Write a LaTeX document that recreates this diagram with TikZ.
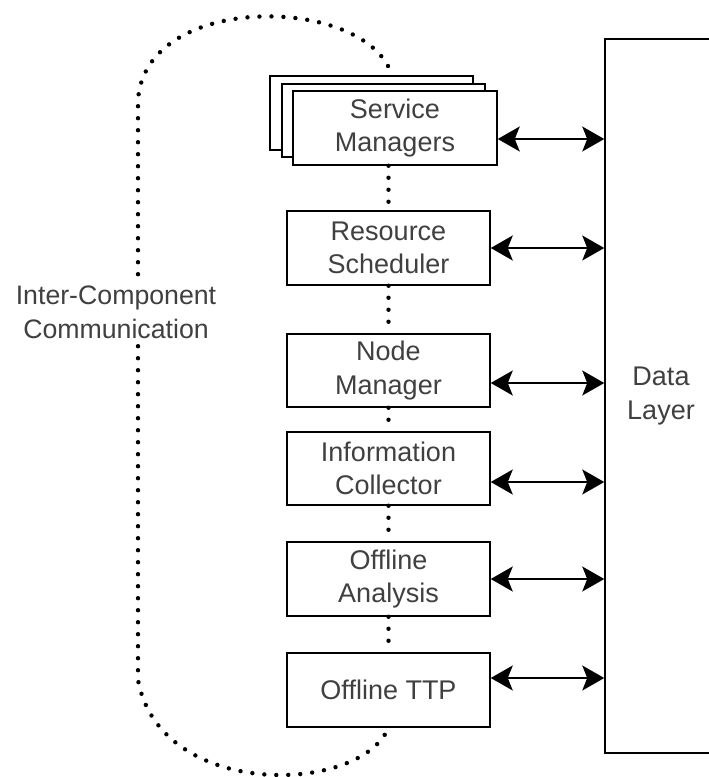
\documentclass[tikz,border=0pt]{standalone}
\usepackage{fontspec}
\setmainfont{Liberation Sans}
\usetikzlibrary{arrows.meta,calc}
\begin{document}
\begin{tikzpicture}[x=1pt,y=-1pt,
  box/.style={draw=black,line width=1.5pt,fill=white,minimum width=203pt,minimum height=74pt,inner sep=0pt,
    align=center,text=black!75,font=\fontsize{27}{33.5}\selectfont},
  dots/.style={line width=4.4pt,dash pattern=on 0pt off 12pt,line cap=round},
  arr/.style={line width=1.6pt,{Stealth[length=22pt,width=25pt,inset=5pt]}-{Stealth[length=22pt,width=25pt,inset=5pt]}},
  lbl/.style={align=center,fill=white,inner sep=4pt,text=black!75,font=\fontsize{26.7}{34}\selectfont}]
\useasboundingbox (0,0) rectangle (709,777);
\begin{scope}
\clip (0,0) rectangle (709,777);
% Data layer
\node[box,minimum width=112pt,minimum height=714pt] (dl) at (661,396) {Data\\Layer};
\end{scope}
% stacked service managers
\node[box,minimum width=203pt,minimum height=74pt] (sm2) at (371.5,113) {};
\node[box,minimum width=203pt,minimum height=73pt] (sm1) at (383.5,120.5) {};
\node[box,minimum width=204pt,minimum height=74pt] (sm) at (395,128) {Service\\Managers};
\node[box] (rs) at (388.5,248) {Resource\\Scheduler};
\node[box,minimum height=73pt] (nm) at (388.5,370.5) {Node\\Manager};
\node[box,minimum height=73pt] (ic) at (388.5,468.5) {Information\\Collector};
\node[box] (oa) at (388.5,579) {Offline\\Analysis};
\node[box] (ttp) at (388.5,690) {Offline TTP};
% vertical dotted links
\draw[dots] (rs.north |- sm.south) -- (rs.north);
\draw[dots] (rs.south) -- (nm.north);
\draw[dots] (nm.south) -- (ic.north);
\draw[dots] (ic.south) -- (oa.north);
\draw[dots] (oa.south) -- (ttp.north);
% big loop
\coordinate (top) at (388,66);
\draw[dots] (top) .. controls (350,-5) and (145,-5) .. (138,100) -- (138,680)
  .. controls (160,800) and (360,795) .. (ttp.south);
\node[lbl] (icc) at (116,312) {Inter-Component\\Communication};
% arrows
\draw[arr] ([yshift=-11pt]sm.east) coordinate (a1) -- (a1 -| dl.west);
\draw[arr] (rs.east) -- (rs.east -| dl.west);
\draw[arr] ([yshift=-12.5pt]nm.east) coordinate (a3) -- (a3 -| dl.west);
\draw[arr] ([yshift=-13.5pt]ic.east) coordinate (a4) -- (a4 -| dl.west);
\draw[arr] (oa.east) -- (oa.east -| dl.west);
\draw[arr] ([yshift=12pt]ttp.east) coordinate (a6) -- (a6 -| dl.west);
\end{tikzpicture}
\end{document}
